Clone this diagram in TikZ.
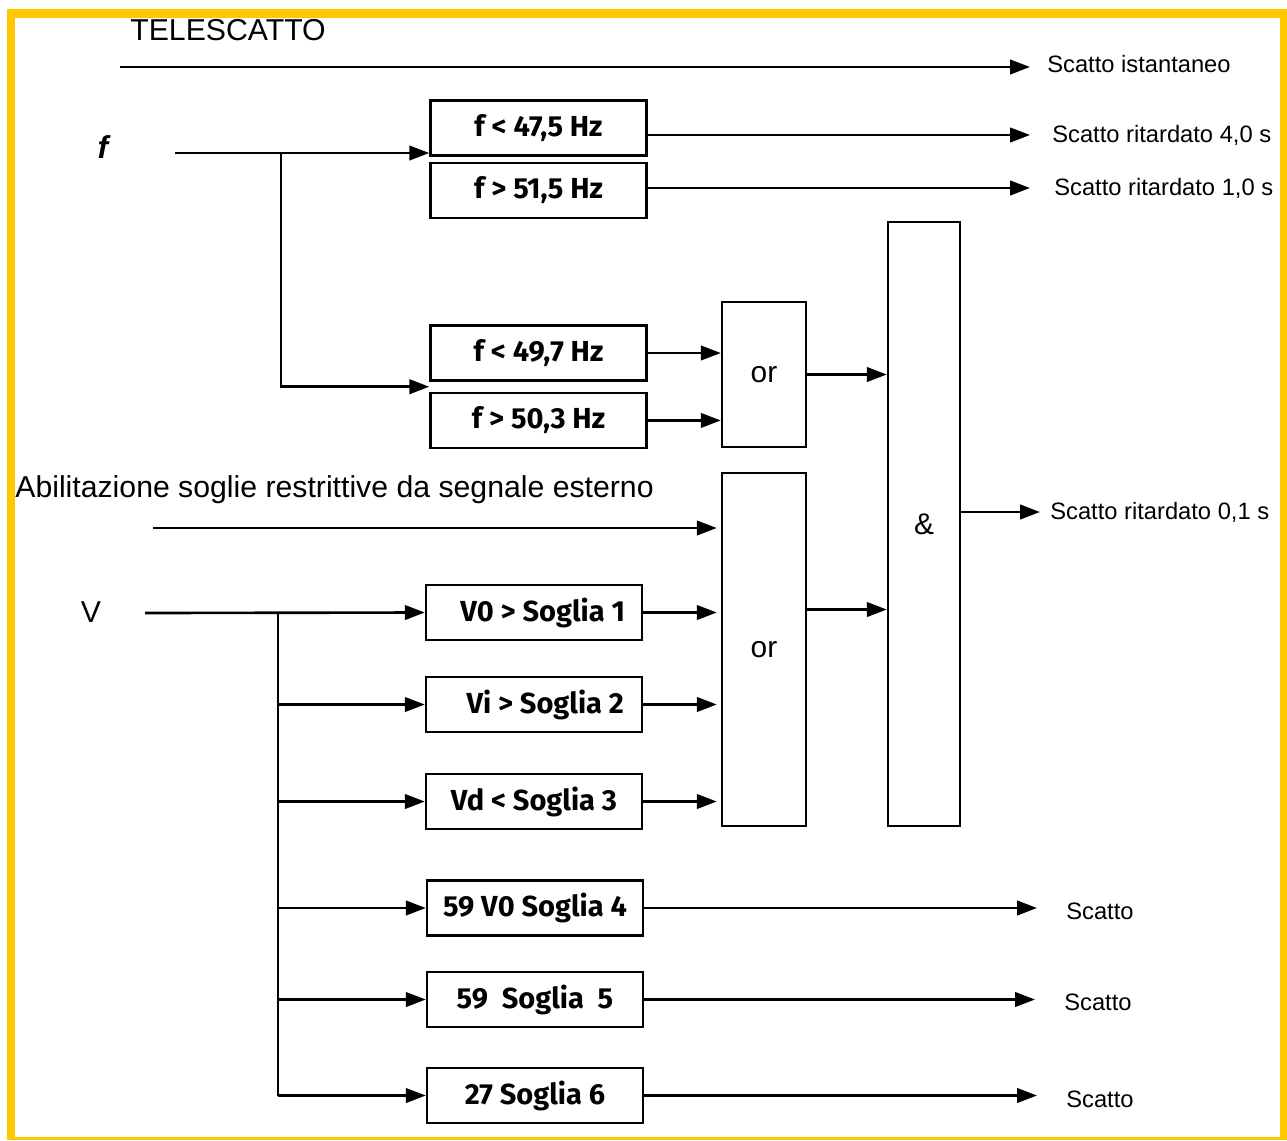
\documentclass[tikz,border=0pt]{standalone}
\usepackage{fontspec}
\setmainfont{Liberation Sans}
\newfontfamily\boxfont{Fira Sans}
\usetikzlibrary{arrows.meta, positioning, calc}
\definecolor{framegold}{RGB}{255,200,0}

\begin{document}
\begin{tikzpicture}[
    x=0.02cm, y=-0.02cm,
    thr/.style={
        rectangle, draw=black, line width=1.4pt,
        minimum width=4.32cm, minimum height=1.1cm,
        inner sep=0pt, fill=white,
        font=\boxfont\bfseries\fontsize{16.5}{18}\selectfont},
    gate/.style={
        rectangle, draw=black, line width=1.4pt,
        minimum width=1.68cm, inner sep=0pt, fill=white,
        font=\fontsize{17}{19}\selectfont},
    lbl/.style={inner sep=0pt, font=\fontsize{17.2}{19}\selectfont},
    outlbl/.style={anchor=west, inner xsep=0.38cm, inner ysep=0pt,
        font=\fontsize{13.5}{15}\selectfont},
    wire/.style={line width=1.5pt},
    arr/.style={-{Triangle[length=4mm,width=2.9mm]}, line width=1.5pt}]

% frame
\useasboundingbox (0,0) rectangle (1287,1140);
\fill[framegold] (7,9) rectangle (1287,1140);
\fill[white] (15,18) rectangle (1280,1137);

% telescatto
\node[lbl, anchor=west] (tele) at (130,30) {TELESCATTO};
\node[outlbl, inner xsep=0.34cm] (inst) at (1030,64) {Scatto istantaneo};
\coordinate (telin) at (120,67);
\draw[arr] (telin) -- (telin -| inst.west);

% frequency thresholds
\node[lbl, font=\bfseries\itshape\fontsize{18}{20}\selectfont] (f) at (103,147) {f};
\node[thr]                      (flo)  at (538.5,128) {f < 47,5 Hz};
\node[thr, below=0.1cm of flo]  (fhi)  {f > 51,5 Hz};
\node[thr]                      (flo2) at (538.5,353) {f < 49,7 Hz};
\node[thr, below=0.2cm of flo2] (fhi2) {f > 50,3 Hz};

\coordinate (fin) at (175,153);
\coordinate (fsplit) at (281,153);
\draw[arr] (fin) -- (fin -| flo.west);
\draw[arr] (fsplit) |- ($(flo2.south west)!.5!(fhi2.north west)$);

\node[outlbl, inner xsep=0.44cm] (r40) at (1030,135) {Scatto ritardato 4,0 s};
\node[outlbl, inner xsep=0.48cm] (r10) at (1030,188) {Scatto ritardato 1,0 s};
\draw[arr] (flo.east |- r40.west) -- (r40.west);
\draw[arr] (fhi.east |- r10.west) -- (r10.west);

% logic gates
\node[gate, minimum height=2.9cm]  (or1) at (764,374.5) {or};
\node[gate, minimum height=7.06cm] (or2) at (764,649.5) {or};
\node[gate, minimum width=1.44cm, minimum height=12.08cm] (and) at (924,524) {\&};

\draw[arr] (flo2.east) -- (flo2.east -| or1.west);
\draw[arr] (fhi2.east) -- (fhi2.east -| or1.west);
\draw[arr] (or1.east) -- (or1.east -| and.west);
\draw[arr] ([yshift=0.8cm]or2.east) -- ([yshift=0.8cm]or2.east -| and.west);

\node[outlbl, inner xsep=0.2cm] (r01) at (1040,512) {Scatto ritardato 0,1 s};
\draw[arr] (and.east |- r01.west) -- (r01.west);

% external enable
\node[lbl, anchor=west] (abil) at (15,490) {Abilitazione soglie restrittive da segnale esterno};
\coordinate (abin) at (153,528);
\draw[arr] (abin) -- ([xshift=-0.08cm]abin -| or2.west);

% voltage thresholds
\node[lbl] (v) at (91,612) {V};
\node[thr] (v0) at (534,612.5)  {\hspace{0.35cm}V0 > Soglia 1};
\node[thr] (vi) at (534,704.5)  {\hspace{0.45cm}Vi > Soglia 2};
\node[thr] (vd) at (534,801.5)  {Vd < Soglia 3};
\node[thr] (s4) at (535,908)    {59 V0 Soglia 4};
\node[thr] (s5) at (535,999.5)  {59~~Soglia~~5};
\node[thr] (s6) at (535,1095.5) {27 Soglia 6};

\coordinate (vin) at (145,613);
\coordinate (vsplit) at (278,613);
\draw[arr] (vin) -- (v0.west);
\draw[wire] (vsplit) -- (vsplit |- s6.west);
\foreach \b in {vi,vd,s4,s5,s6}
    \draw[arr] (vsplit |- \b.west) -- (\b.west);
\foreach \b in {v0,vi,vd}
    \draw[arr] (\b.east) -- ([xshift=-0.08cm]\b.east -| or2.west);

\node[outlbl, inner xsep=0.58cm] (t4) at (1037,911)  {Scatto};
\node[outlbl, inner xsep=0.58cm] (t5) at (1035,1002) {Scatto};
\node[outlbl, inner xsep=0.58cm] (t6) at (1037,1099) {Scatto};
\draw[arr] (s4.east) -- (s4.east -| t4.west);
\draw[arr] (s5.east) -- (s5.east -| t5.west);
\draw[arr] (s6.east) -- (s6.east -| t6.west);

\end{tikzpicture}
\end{document}
